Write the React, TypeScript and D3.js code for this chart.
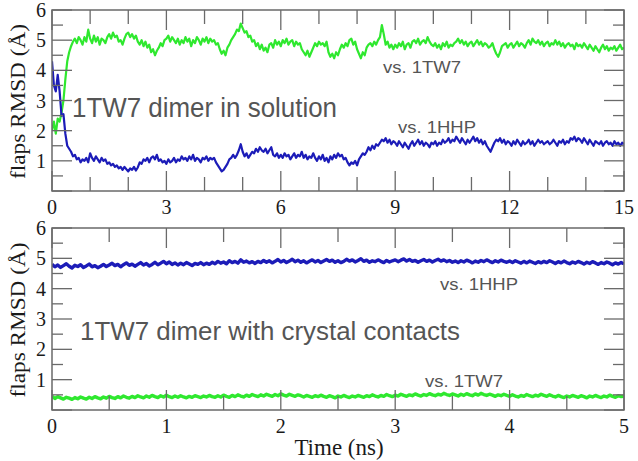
import React from "react";
import * as d3 from "d3";

// ---------- DATA ----------
// Top panel: 1TW7 dimer in solution, 0–15 ns, sampled every 0.05 ns
const topGreen_vs1TW7 = [
  2.0, 2.3, 1.9, 2.4, 2.3, 2.6, 3.0, 3.7, 4.3, 4.6, 4.8, 4.95, 5.05, 4.9, 5.1, 5.0, 4.85, 5.1, 4.95, 5.35,
  5.05, 4.9, 5.15, 4.95, 5.1, 4.85, 5.05, 5.0, 4.9, 5.1, 5.2, 5.05, 5.25, 5.1, 5.15, 4.95, 5.0, 4.85, 5.05, 5.2,
  5.25, 5.1, 5.2, 5.05, 5.15, 4.95, 4.85, 5.0, 4.8, 4.95, 4.75, 4.85, 4.6, 4.7, 4.5, 4.65, 4.75, 4.9, 4.8, 5.0,
  5.05, 5.15, 4.95, 5.1, 5.0, 4.9, 5.05, 4.85, 5.0, 4.9, 5.1, 4.95, 5.05, 4.8, 5.0, 4.9, 5.1, 5.0, 4.85, 5.05,
  4.95, 5.1, 4.9, 5.05, 4.95, 5.0, 4.85, 4.9, 4.7, 4.55, 4.65, 4.5, 4.75, 4.85, 5.0, 5.1, 5.2, 5.35, 5.3, 5.55,
  5.4, 5.25, 5.3, 5.1, 5.15, 4.95, 5.0, 4.8, 4.9, 4.7, 4.85, 4.65, 4.75, 4.6, 4.85, 4.9, 4.75, 5.0, 4.85, 4.95,
  4.8, 5.0, 4.9, 5.05, 4.85, 4.95, 5.0, 4.8, 4.95, 4.85, 4.9, 4.7, 4.6, 4.5, 4.65, 4.45, 4.6, 4.75, 4.9, 4.8,
  4.95, 4.85, 4.9, 4.8, 4.95, 4.6, 4.45, 4.55, 4.4, 4.6, 4.5, 4.7, 4.85, 4.75, 4.9, 4.8, 5.0, 5.05, 4.85, 4.95,
  4.7, 4.55, 4.4, 4.6, 4.5, 4.75, 4.85, 4.9, 4.8, 4.95, 4.85, 5.0, 5.1, 5.5, 5.2, 4.85, 4.95, 4.75, 4.85, 4.7,
  4.85, 4.75, 4.9, 4.8, 4.95, 4.7, 4.85, 4.9, 4.75, 4.95, 5.0, 4.9, 5.05, 4.85, 4.95, 5.0, 4.9, 5.1, 4.95, 4.85,
  4.8, 4.9, 4.75, 4.85, 4.7, 4.9, 4.8, 4.95, 4.75, 4.85, 4.8, 4.9, 4.95, 5.05, 4.9, 5.0, 4.85, 4.95, 4.8, 4.9,
  4.95, 4.8, 4.9, 5.0, 4.85, 4.95, 4.8, 4.9, 4.85, 4.75, 4.8, 4.9, 4.7, 4.55, 4.45, 4.6, 4.8, 4.85, 4.9, 4.75,
  4.85, 4.9, 4.75, 4.85, 4.95, 4.8, 4.9, 4.85, 4.75, 4.9, 5.0, 4.85, 5.05, 4.95, 4.9, 5.0, 4.85, 4.95, 4.8, 4.9,
  4.95, 4.8, 4.9, 4.85, 5.0, 4.85, 4.95, 4.8, 4.9, 4.75, 4.85, 4.9, 4.8, 4.85, 4.7, 4.9, 4.8, 4.85, 4.75, 4.9,
  4.8, 4.7, 4.85, 4.75, 4.65, 4.8, 4.7, 4.6, 4.75, 4.85, 4.7, 4.8, 4.65, 4.75, 4.7, 4.8, 4.65, 4.75, 4.85, 4.7, 4.75,
];
const topBlue_vs1HHP = [
  4.3, 3.5, 3.3, 3.85, 3.3, 2.5, 2.55, 1.9, 1.5, 1.4, 1.3, 1.15, 1.2, 1.05, 1.1, 0.95, 1.05, 1.0, 1.1, 0.95,
  1.25, 1.1, 1.0, 1.15, 1.05, 0.95, 1.1, 1.0, 1.05, 0.9, 0.95, 0.85, 0.9, 0.8, 0.85, 0.75, 0.8, 0.7, 0.8, 0.72,
  0.65, 0.75, 0.7, 0.8, 0.68, 0.78, 0.95, 0.9, 1.05, 1.0, 1.1, 0.95, 1.1, 1.15, 1.05, 1.2, 1.0, 1.05, 0.95, 1.0,
  0.9, 1.05, 0.95, 1.0, 1.1, 0.95, 1.05, 1.0, 1.15, 1.05, 1.1, 1.0, 1.15, 1.05, 1.2, 1.0, 1.1, 1.05, 0.95, 1.1,
  1.05, 1.15, 1.0, 1.1, 1.05, 1.1, 0.95, 0.85, 0.75, 0.65, 0.7, 0.8, 0.9, 1.05, 1.1, 1.2, 1.1, 1.2, 1.35, 1.55,
  1.3, 1.15, 1.25, 1.1, 1.2, 1.3, 1.25, 1.4, 1.3, 1.45, 1.35, 1.3, 1.4, 1.25, 1.35, 1.45, 1.2, 1.15, 1.25, 1.1,
  1.2, 1.1, 1.25, 1.15, 1.2, 1.05, 1.15, 1.25, 1.1, 1.2, 1.15, 1.3, 1.1, 1.2, 1.05, 1.15, 1.1, 1.25, 1.1, 1.0,
  1.15, 1.05, 1.2, 1.0, 1.1, 0.95, 1.15, 1.05, 1.2, 1.1, 1.25, 1.15, 1.2, 1.05, 1.1, 0.95, 0.85, 0.95, 0.9, 1.0,
  0.85, 1.05, 1.15, 1.25, 1.2, 1.3, 1.45, 1.35, 1.5, 1.4, 1.55, 1.5, 1.6, 1.7, 1.65, 1.75, 1.6, 1.7, 1.55, 1.65,
  1.6, 1.5, 1.65, 1.55, 1.45, 1.6, 1.5, 1.4, 1.55, 1.65, 1.5, 1.6, 1.7, 1.55, 1.65, 1.5, 1.6, 1.55, 1.45, 1.6,
  1.55, 1.65, 1.5, 1.6, 1.55, 1.7, 1.6, 1.65, 1.75, 1.6, 1.7, 1.65, 1.8, 1.7, 1.6, 1.75, 1.65, 1.55, 1.7, 1.6,
  1.7, 1.8, 1.65, 1.75, 1.6, 1.7, 1.55, 1.65, 1.5, 1.4, 1.3, 1.45, 1.6, 1.7, 1.65, 1.75, 1.6, 1.7, 1.55, 1.65,
  1.6, 1.5, 1.65, 1.55, 1.7, 1.6, 1.5, 1.65, 1.55, 1.6, 1.7, 1.55, 1.65, 1.5, 1.6, 1.7, 1.6, 1.65, 1.55, 1.6,
  1.65, 1.55, 1.6, 1.7, 1.6, 1.5, 1.65, 1.6, 1.7, 1.55, 1.65, 1.6, 1.75, 1.7, 1.8, 1.65, 1.75, 1.7, 1.6, 1.75,
  1.65, 1.55, 1.7, 1.6, 1.5, 1.65, 1.6, 1.55, 1.65, 1.5, 1.6, 1.65, 1.55, 1.6, 1.5, 1.65, 1.55, 1.6, 1.5, 1.6, 1.55,
];
// Bottom panel: 1TW7 dimer with crystal contacts, 0–5 ns, sampled every 0.025 ns
const botBlue_vs1HHP = [
  4.8, 4.72, 4.78, 4.7, 4.76, 4.82, 4.74, 4.68, 4.77, 4.73, 4.79, 4.7, 4.75, 4.81, 4.72, 4.76, 4.69, 4.74, 4.8, 4.73,
  4.78, 4.84, 4.76, 4.8, 4.72, 4.79, 4.85, 4.77, 4.81, 4.74, 4.8, 4.86, 4.78, 4.83, 4.75, 4.8, 4.87, 4.79, 4.84, 4.9,
  4.82, 4.88, 4.8, 4.85, 4.78, 4.84, 4.79, 4.86, 4.81, 4.76, 4.83, 4.8, 4.86, 4.79, 4.84, 4.8, 4.87, 4.82, 4.9, 4.84,
  4.88, 4.82, 4.92, 4.86, 4.9, 4.84, 4.95, 4.87, 4.91, 4.85, 4.89, 4.83, 4.9, 4.86, 4.93, 4.87, 4.92, 4.85, 4.9, 4.96,
  4.88, 4.93, 4.86, 4.91, 4.97, 4.89, 4.94, 4.87, 4.92, 4.85, 4.9, 4.95, 4.88, 4.93, 4.86, 4.91, 4.96, 4.9, 4.94, 4.87,
  4.92, 4.86, 4.9, 4.97, 4.91, 4.95, 4.88, 4.93, 4.99, 4.9, 4.94, 4.87, 4.92, 4.89, 4.95, 4.9, 4.86, 4.93, 4.88, 4.92,
  4.95, 4.89, 4.94, 4.98, 4.91, 4.96, 4.9, 4.93, 4.87, 4.92, 4.96, 4.9, 4.94, 4.88, 4.93, 4.97, 4.91, 4.95, 4.89, 4.93,
  4.87, 4.91, 4.86, 4.92, 4.88, 4.94, 4.9, 4.85, 4.91, 4.87, 4.93, 4.89, 4.95, 4.9, 4.86, 4.92, 4.88, 4.94, 4.9, 4.87,
  4.91, 4.86, 4.92, 4.88, 4.84, 4.9, 4.85, 4.91, 4.87, 4.83, 4.89, 4.85, 4.9, 4.86, 4.92, 4.88, 4.83, 4.89, 4.85, 4.91,
  4.86, 4.82, 4.88, 4.84, 4.9, 4.86, 4.81, 4.87, 4.83, 4.89, 4.85, 4.8, 4.86, 4.82, 4.88, 4.84, 4.79, 4.85, 4.81, 4.86, 4.82,
];
const botGreen_vs1TW7 = [
  0.45, 0.38, 0.44, 0.4, 0.36, 0.42, 0.39, 0.35, 0.41, 0.37, 0.43, 0.39, 0.36, 0.42, 0.38, 0.44, 0.4, 0.37, 0.43, 0.39,
  0.45, 0.41, 0.38, 0.44, 0.4, 0.46, 0.42, 0.39, 0.45, 0.41, 0.47, 0.43, 0.4, 0.46, 0.42, 0.48, 0.44, 0.41, 0.47, 0.43,
  0.49, 0.44, 0.41, 0.46, 0.42, 0.47, 0.43, 0.4, 0.45, 0.42, 0.47, 0.44, 0.41, 0.46, 0.43, 0.48, 0.44, 0.42, 0.47, 0.43,
  0.49, 0.45, 0.42, 0.48, 0.44, 0.5, 0.46, 0.43, 0.49, 0.45, 0.51, 0.47, 0.44, 0.5, 0.46, 0.52, 0.48, 0.45, 0.51, 0.47,
  0.53, 0.49, 0.46, 0.52, 0.48, 0.45, 0.5, 0.47, 0.43, 0.48, 0.45, 0.42, 0.47, 0.44, 0.49, 0.45, 0.42, 0.47, 0.44, 0.4,
  0.46, 0.43, 0.48, 0.44, 0.41, 0.46, 0.43, 0.48, 0.45, 0.42, 0.47, 0.44, 0.5, 0.46, 0.43, 0.48, 0.45, 0.51, 0.47, 0.44,
  0.49, 0.46, 0.52, 0.48, 0.45, 0.5, 0.47, 0.53, 0.49, 0.46, 0.51, 0.48, 0.54, 0.5, 0.47, 0.52, 0.49, 0.55, 0.51, 0.48,
  0.53, 0.5, 0.46, 0.52, 0.48, 0.54, 0.5, 0.47, 0.53, 0.49, 0.55, 0.51, 0.48, 0.52, 0.49, 0.45, 0.5, 0.47, 0.52, 0.48,
  0.45, 0.5, 0.46, 0.43, 0.48, 0.45, 0.51, 0.47, 0.44, 0.49, 0.46, 0.52, 0.48, 0.45, 0.5, 0.46, 0.43, 0.48, 0.44, 0.41,
  0.46, 0.43, 0.48, 0.45, 0.42, 0.47, 0.44, 0.4, 0.46, 0.43, 0.48, 0.44, 0.41, 0.46, 0.43, 0.49, 0.45, 0.42, 0.47, 0.44, 0.45,
];

const topXTickLabels = [0, 3, 6, 9, 12, 15];
const botXTickLabels = [0, 1, 2, 3, 4, 5];
const yTickLabels = [1, 2, 3, 4, 5, 6];

const GREEN = "#2fe82f";
const BLUE = "#1c1cb8";
const AXIS = "#6a6a6a";
const NOTE = "#555555";

const W = 638;
const H = 461;
const LEFT = 52;
const RIGHT = 624;

type Series = { values: number[]; color: string };

function Panel(props: {
  id: string;
  top: number;
  bottom: number;
  tMax: number;
  minorStep: number;
  majorStep: number;
  xLabels: number[];
  series: Series[];
  lineWidth: number;
}) {
  const { id, top, bottom, tMax, minorStep, majorStep, xLabels, series, lineWidth } = props;
  const x = d3.scaleLinear().domain([0, tMax]).range([LEFT, RIGHT]);
  const y = d3.scaleLinear().domain([0, 6]).range([bottom, top]);

  const xTicks = d3.range(0, tMax + 1e-9, minorStep);
  const yTicks = d3.range(0, 6 + 1e-9, 0.5);
  const isMajorX = (v: number) => Math.abs(v / majorStep - Math.round(v / majorStep)) < 1e-6;
  const isMajorY = (v: number) => Math.abs(v - Math.round(v)) < 1e-6;

  return (
    <g>
      <defs>
        <clipPath id={id}>
          <rect x={LEFT} y={top} width={RIGHT - LEFT} height={bottom - top} />
        </clipPath>
      </defs>
      <g clipPath={`url(#${id})`}>
        {series.map((s, k) => {
          const n = s.values.length;
          const line = d3
            .line<number>()
            .x((_, i) => x((i * tMax) / (n - 1)))
            .y((v) => y(v));
          return (
            <path key={k} d={line(s.values) || ""} fill="none" stroke={s.color} strokeWidth={lineWidth} strokeLinejoin="round" />
          );
        })}
      </g>
      {xTicks.map((t, i) => {
        const len = isMajorX(t) ? 20 : 14;
        const px = x(t);
        return (
          <g key={"xt" + i}>
            <line x1={px} x2={px} y1={bottom} y2={bottom - len} stroke={AXIS} strokeWidth={1.3} />
            <line x1={px} x2={px} y1={top} y2={top + len} stroke={AXIS} strokeWidth={1.3} />
          </g>
        );
      })}
      {yTicks.map((v, i) => {
        const len = isMajorY(v) ? 20 : 11;
        const py = y(v);
        return (
          <g key={"yt" + i}>
            <line x1={LEFT} x2={LEFT + len} y1={py} y2={py} stroke={AXIS} strokeWidth={1.3} />
            <line x1={RIGHT} x2={RIGHT - len} y1={py} y2={py} stroke={AXIS} strokeWidth={1.3} />
          </g>
        );
      })}
      <rect x={LEFT} y={top} width={RIGHT - LEFT} height={bottom - top} fill="none" stroke={AXIS} strokeWidth={1.5} />
      {xLabels.map((t) => (
        <text key={"xl" + t} x={x(t)} y={bottom + 23} textAnchor="middle" fontFamily="Liberation Serif, serif" fontSize={20} fill="#1a1a1a">
          {t}
        </text>
      ))}
      {yTickLabels.map((v) => (
        <text key={"yl" + v} x={LEFT - 6} y={y(v)} dy="0.35em" textAnchor="end" fontFamily="Liberation Serif, serif" fontSize={20} fill="#1a1a1a">
          {v}
        </text>
      ))}
      <text
        transform={`translate(25, ${(top + bottom) / 2 + 1}) rotate(-90)`}
        textAnchor="middle"
        fontFamily="Liberation Serif, serif"
        fontSize={22}
        fill="#1a1a1a"
        textLength={155}
        lengthAdjust="spacingAndGlyphs"
      >
        flaps RMSD (Å)
      </text>
    </g>
  );
}

export default function App() {
  const sans = "Liberation Sans, Arial, sans-serif";
  return (
    <svg width={W} height={H} style={{ position: "absolute", left: 0, top: 0, background: "#fff" }}>
      <rect width={W} height={H} fill="#fff" />
      <Panel
        id="clipTop"
        top={10}
        bottom={191}
        tMax={15}
        minorStep={1}
        majorStep={3}
        xLabels={topXTickLabels}
        lineWidth={2.2}
        series={[
          { values: topGreen_vs1TW7, color: GREEN },
          { values: topBlue_vs1HHP, color: BLUE },
        ]}
      />
      <Panel
        id="clipBot"
        top={228}
        bottom={410}
        tMax={5}
        minorStep={0.5}
        majorStep={1}
        xLabels={botXTickLabels}
        lineWidth={3.4}
        series={[
          { values: botBlue_vs1HHP, color: BLUE },
          { values: botGreen_vs1TW7, color: GREEN },
        ]}
      />
      <text x={72} y={117} fontFamily={sans} fontSize={27} fill={NOTE} textLength={265} lengthAdjust="spacingAndGlyphs">
        1TW7 dimer in solution
      </text>
      <text x={383} y={73} fontFamily={sans} fontSize={16} fill={NOTE} textLength={78} lengthAdjust="spacingAndGlyphs">
        vs. 1TW7
      </text>
      <text x={398} y={133} fontFamily={sans} fontSize={16} fill={NOTE} textLength={78} lengthAdjust="spacingAndGlyphs">
        vs. 1HHP
      </text>
      <text x={440} y={290} fontFamily={sans} fontSize={16} fill={NOTE} textLength={78} lengthAdjust="spacingAndGlyphs">
        vs. 1HHP
      </text>
      <text x={80} y={340} fontFamily={sans} fontSize={26} fill={NOTE} textLength={380} lengthAdjust="spacingAndGlyphs">
        1TW7 dimer with crystal contacts
      </text>
      <text x={425} y={387} fontFamily={sans} fontSize={16} fill={NOTE} textLength={78} lengthAdjust="spacingAndGlyphs">
        vs. 1TW7
      </text>
      <text x={339} y={455} textAnchor="middle" fontFamily="Liberation Serif, serif" fontSize={23} fill="#1a1a1a">
        Time (ns)
      </text>
    </svg>
  );
}
